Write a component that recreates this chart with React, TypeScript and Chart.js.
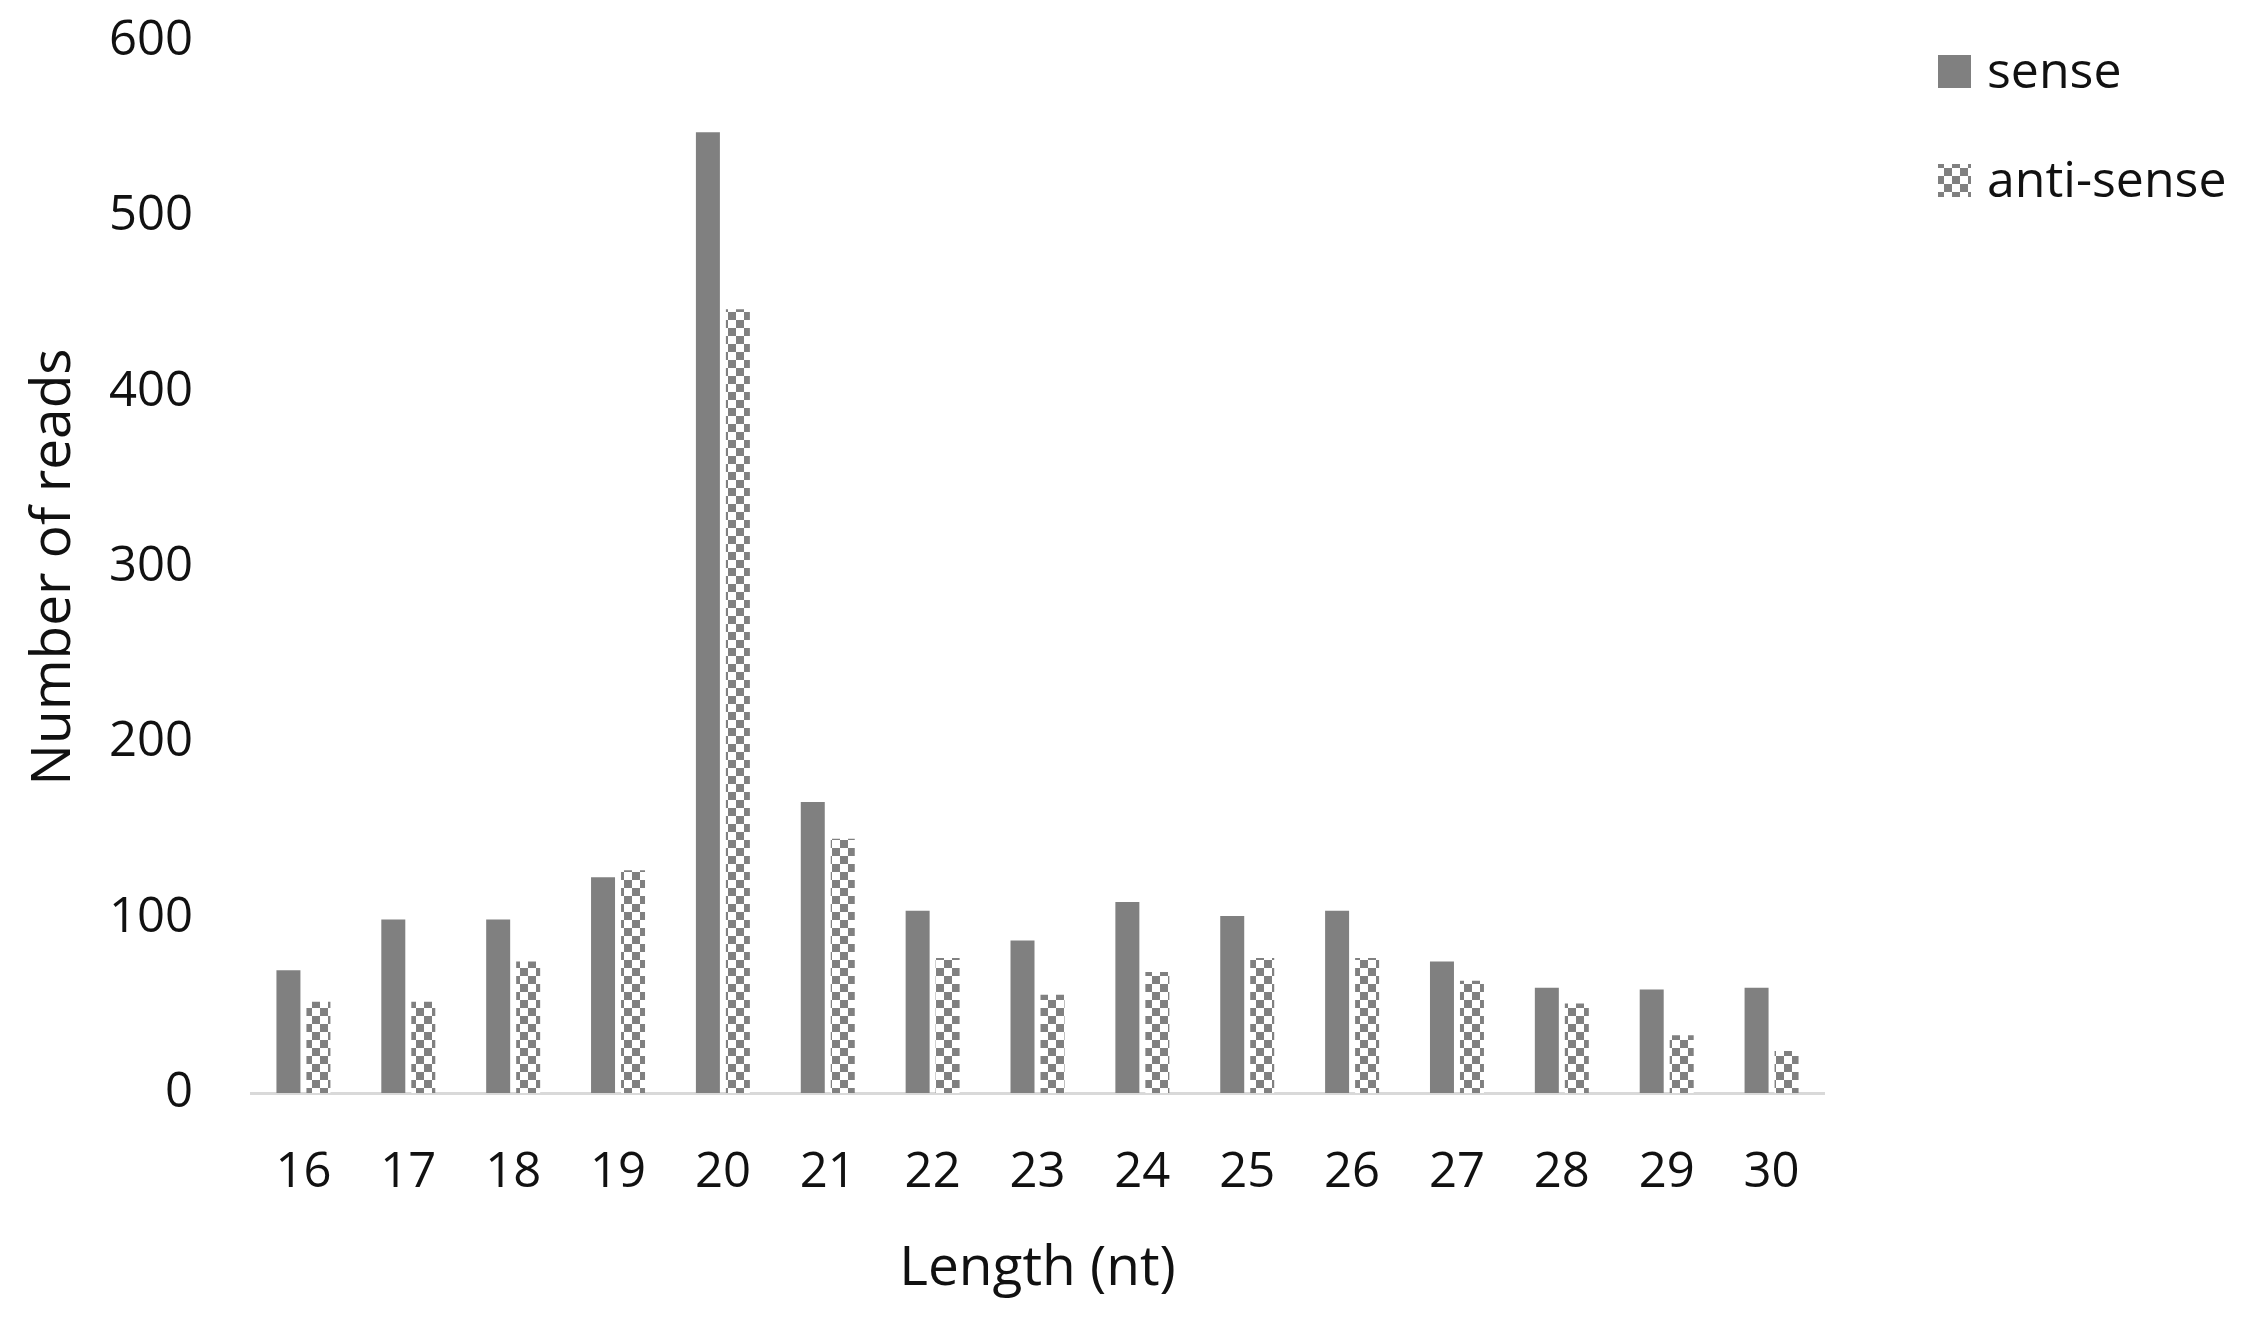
import React, { useEffect, useRef } from "react";
import { Chart, registerables } from "chart.js";

Chart.register(...registerables);

const categories = ["16", "17", "18", "19", "20", "21", "22", "23", "24", "25", "26", "27", "28", "29", "30"];
const senseValues = [70, 99, 99, 123, 548, 166, 104, 87, 109, 101, 104, 75, 60, 59, 60];
const antiSenseValues = [52, 52, 75, 127, 447, 145, 77, 56, 69, 77, 77, 64, 51, 33, 24];
const seriesNames = ["sense", "anti-sense"];
const yTickValues = [0, 100, 200, 300, 400, 500, 600];
const xTitle = "Length (nt)";
const yTitle = "Number of reads";

const GRAY = "#808080";
const FONT = "'Open Sans', 'Noto Sans', sans-serif";

function makeChecker(): CanvasPattern | string {
  const c = document.createElement("canvas");
  c.width = 16;
  c.height = 16;
  const g = c.getContext("2d");
  if (!g) return GRAY;
  g.fillStyle = "#ffffff";
  g.fillRect(0, 0, 16, 16);
  g.fillStyle = GRAY;
  g.fillRect(0, 0, 8, 8);
  g.fillRect(8, 8, 8, 8);
  const p = g.createPattern(c, "repeat");
  return p || GRAY;
}

export default function App() {
  const ref = useRef<HTMLCanvasElement | null>(null);

  useEffect(() => {
    if (!ref.current) return;
    const checker = makeChecker();

    const legendPlugin = {
      id: "customLegend",
      afterDraw(chart: any) {
        const ctx = chart.ctx;
        const area = chart.chartArea;
        const x0 = area.right + 114;
        const rows = [
          { boxTop: 55, baseline: 88 },
          { boxTop: 164, baseline: 197 },
        ];
        ctx.save();
        chart.data.datasets.forEach((ds: any, i: number) => {
          const r = rows[i];
          ctx.fillStyle = ds.backgroundColor;
          ctx.fillRect(x0, r.boxTop, 33, 33);
          ctx.fillStyle = "#111111";
          ctx.font = `50px ${FONT}`;
          ctx.textBaseline = "alphabetic";
          ctx.textAlign = "left";
          ctx.fillText(ds.label, x0 + 49, r.baseline);
        });
        ctx.restore();
      },
    };

    const chart = new Chart(ref.current, {
      type: "bar",
      data: {
        labels: categories,
        datasets: [
          {
            label: seriesNames[0],
            data: senseValues,
            backgroundColor: GRAY,
            borderWidth: 0,
            categoryPercentage: 0.572,
            barPercentage: 0.8,
          },
          {
            label: seriesNames[1],
            data: antiSenseValues,
            backgroundColor: checker as any,
            borderWidth: 0,
            categoryPercentage: 0.572,
            barPercentage: 0.8,
          },
        ],
      },
      options: {
        animation: false,
        responsive: false,
        devicePixelRatio: 1,
        layout: { padding: { top: 41, right: 424, bottom: 0, left: 0 } },
        plugins: {
          legend: { display: false },
          title: { display: false },
          tooltip: { enabled: false },
        },
        scales: {
          x: {
            grid: { display: false, drawTicks: false },
            border: { display: true, color: "#d9d9d9", width: 3 },
            ticks: {
              color: "#111111",
              font: { family: FONT, size: 49 },
              padding: 51,
              maxRotation: 0,
              autoSkip: false,
            },
            title: {
              display: true,
              text: xTitle,
              color: "#111111",
              font: { family: FONT, size: 55 },
              padding: { top: 0, bottom: 21 },
            },
            afterFit(scale: any) {
              scale.height = 230;
              scale.paddingLeft = 0;
              scale.paddingRight = 0;
              scale.paddingTop = 0;
              scale.paddingBottom = 0;
            },
          },
          y: {
            min: 0,
            max: 600,
            grid: { display: false, drawTicks: false },
            border: { display: false },
            afterBuildTicks(scale: any) {
              scale.ticks = yTickValues.map((v) => ({ value: v }));
            },
            ticks: {
              color: "#111111",
              font: { family: FONT, size: 49 },
              padding: 58,
            },
            title: {
              display: true,
              text: yTitle,
              color: "#111111",
              font: { family: FONT, size: 55 },
              padding: { top: 21, bottom: 0 },
            },
            afterFit(scale: any) {
              scale.width = 251;
              scale.paddingTop = 0;
              scale.paddingBottom = 0;
              scale.paddingLeft = 0;
              scale.paddingRight = 0;
            },
          },
        },
      },
      plugins: [legendPlugin],
    });

    return () => chart.destroy();
  }, []);

  return (
    <div style={{ position: "fixed", left: 0, top: 0, width: 2248, height: 1323, background: "#ffffff" }}>
      <canvas ref={ref} width={2248} height={1323} style={{ display: "block", width: 2248, height: 1323 }} />
    </div>
  );
}
